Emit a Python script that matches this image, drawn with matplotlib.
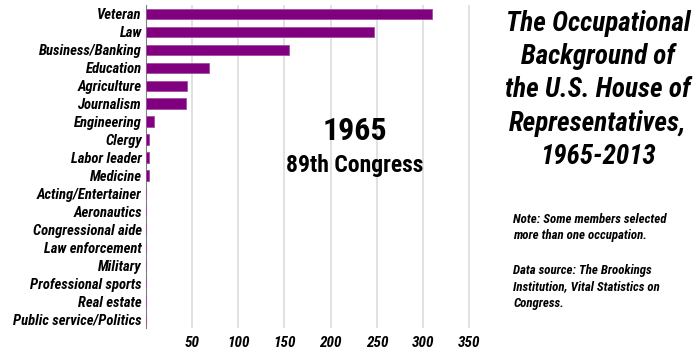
import matplotlib
matplotlib.use("Agg")
import matplotlib.pyplot as plt

# 1965 occupations, values
occupations = ["Veteran", "Law", "Business/Banking", "Education", "Agriculture",
               "Journalism", "Engineering", "Clergy", "Labor leader", "Medicine",
               "Acting/Entertainer", "Aeronautics", "Congressional aide",
               "Law enforcement", "Military", "Professional sports",
               "Real estate", "Public service/Politics"]
members = [310, 247, 155, 68, 44, 43, 9, 3, 3, 3, 0, 0, 0, 0, 0, 0, 0, 0]
xticks = [50, 100, 150, 200, 250, 300, 350]

plt.rcParams['font.family'] = ['Roboto Condensed', 'DejaVu Sans']

fig = plt.figure(figsize=(7, 3.5), dpi=100)
ax = fig.add_axes([0.2086, 0.063, 0.4655, 0.923])

ypos = list(range(len(occupations)))
ax.barh(ypos, members, height=0.57, color="#800080", edgecolor="#a050a0",
        linewidth=0.6, zorder=3)
ax.set_ylim(len(occupations) - 0.5, -0.5)
ax.set_xlim(0, 353)
ax.set_yticks(ypos)
ax.set_yticklabels(occupations, fontsize=10.5, fontweight="bold", style="italic")
ax.set_xticks(xticks)
ax.set_xticklabels([str(t) for t in xticks], fontsize=11, fontweight="bold",
                   style="italic")
ax.tick_params(length=0, pad=3)
ax.tick_params(axis="x", pad=6)
ax.grid(axis="x", color="#dcdcdc", linewidth=1.2, zorder=0)
for s in ["top", "right", "bottom"]:
    ax.spines[s].set_visible(False)
ax.spines["left"].set_color("#808080")

fig.text(0.507, 0.625, "1965", ha="center", va="center", fontsize=23,
         fontweight="bold")
fig.text(0.507, 0.528, "89th Congress", ha="center", va="center", fontsize=17,
         fontweight="bold")

fig.text(0.854, 0.743, "The Occupational\nBackground of\nthe U.S. House of\nRepresentatives,\n1965-2013",
         ha="center", va="center", fontsize=19.5, fontweight="bold",
         style="italic", linespacing=1.3)
fig.text(0.733, 0.35, "Note: Some members selected\nmore than one occupation.",
         ha="left", va="center", fontsize=9.3, fontweight="bold", style="italic",
         linespacing=1.35)
fig.text(0.733, 0.18, "Data source: The Brookings\nInstitution, Vital Statistics on\nCongress.",
         ha="left", va="center", fontsize=9.3, fontweight="bold", style="italic",
         linespacing=1.35)

fig.savefig("out.png", dpi=100)
